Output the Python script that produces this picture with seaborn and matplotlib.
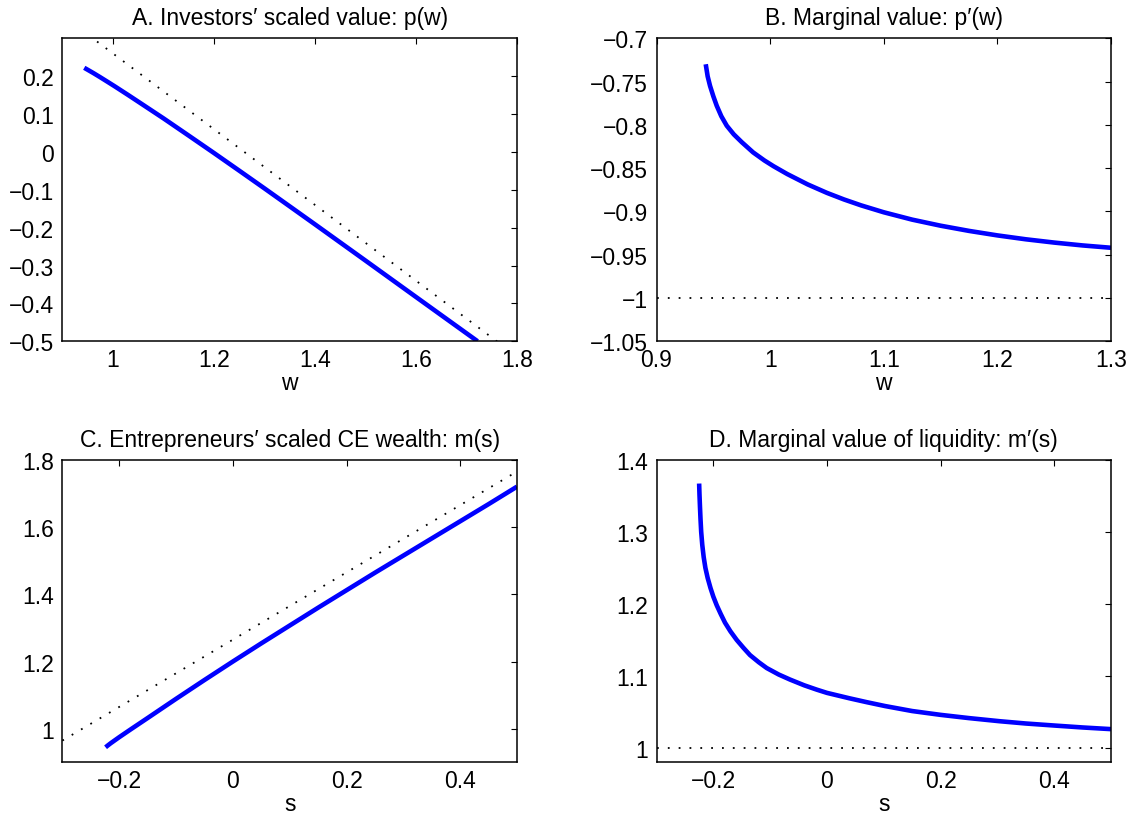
import numpy as np
import pandas as pd
import matplotlib
matplotlib.use("Agg")
import matplotlib.pyplot as plt
from matplotlib.ticker import FuncFormatter
import seaborn as sns

# ---------------- data ----------------
# Panel A: investors' scaled value p(w)
w_a = [0.9433, 0.9500, 0.9618, 0.9750, 0.9900, 1.0030, 1.0300, 1.0600, 1.1000,
       1.1500, 1.2000, 1.2500, 1.3000, 1.3500, 1.4000, 1.5000, 1.6000, 1.7220]
p_a = [0.222, 0.2169, 0.2078, 0.1971, 0.1846, 0.1737, 0.1504, 0.1240, 0.0887,
       0.0431, -0.0028, -0.0494, -0.0963, -0.1437, -0.1912, -0.2869, -0.3830, -0.5000]
w_a_fb = [0.90, 1.80]
p_a_fb = [0.36, -0.54]

# Panel B: marginal value p'(w)
w_b = [0.9433, 0.9450, 0.9471, 0.9500, 0.9530, 0.9570, 0.9618, 0.9680, 0.9750,
       0.9850, 0.9950, 1.0030, 1.0150, 1.0330, 1.0500, 1.0650, 1.0800, 1.1000,
       1.1250, 1.1500, 1.1750, 1.2000, 1.2250, 1.2500, 1.2750, 1.3000]
p_b = [-0.730, -0.744, -0.755, -0.767, -0.778, -0.790, -0.801, -0.811, -0.820,
       -0.8318, -0.8412, -0.8478, -0.8568, -0.8688, -0.8786, -0.8862, -0.8930, -0.9010,
       -0.9095, -0.9165, -0.9225, -0.9277, -0.9322, -0.9360, -0.9393, -0.9420]
w_b_fb = [0.90, 1.30]
p_b_fb = [-1.0, -1.0]

# Panel C: entrepreneurs' scaled CE wealth m(s)
s_c = [-0.2240, -0.2200, -0.2150, -0.2100, -0.2000, -0.1800, -0.1500, -0.1000, -0.0500,
       0.0000, 0.0500, 0.1000, 0.1500, 0.2000, 0.2500, 0.3000, 0.3500, 0.4000, 0.4500, 0.5000]
m_c = [0.945, 0.9505, 0.957, 0.963, 0.975, 0.998, 1.032, 1.089, 1.145,
       1.200, 1.254, 1.307, 1.360, 1.412, 1.464, 1.515, 1.566, 1.617, 1.668, 1.720]
s_c_fb = [-0.30, 0.50]
m_c_fb = [0.965, 1.765]

# Panel D: marginal value of liquidity m'(s)
s_d = [-0.2250, -0.2244, -0.2236, -0.2226, -0.2214, -0.2195, -0.2170, -0.2140, -0.2100,
       -0.2050, -0.2000, -0.1940, -0.1870, -0.1795, -0.1700, -0.1589, -0.1470, -0.1355,
       -0.1200, -0.1061, -0.0850, -0.0651, -0.0400, -0.0180, 0.0000, 0.0395, 0.0700,
       0.1024, 0.1500, 0.2000, 0.2500, 0.3036, 0.3500, 0.4000, 0.4500, 0.5000]
md_d = [1.367, 1.352, 1.336, 1.318, 1.300, 1.282, 1.265, 1.250, 1.236,
        1.222, 1.210, 1.198, 1.186, 1.174, 1.162, 1.150, 1.139, 1.129,
        1.119, 1.111, 1.102, 1.095, 1.087, 1.081, 1.0765, 1.0690, 1.0636,
        1.0582, 1.0513, 1.0460, 1.0415, 1.0372, 1.0340, 1.0312, 1.0285, 1.0262]
s_d_fb = [-0.30, 0.50]
md_d_fb = [1.0, 1.0]

titles = ["A. Investors\u2032 scaled value: p(w)",
          "B. Marginal value: p\u2032(w)",
          "C. Entrepreneurs\u2032 scaled CE wealth: m(s)",
          "D. Marginal value of liquidity: m\u2032(s)"]
xlabels = ["w", "w", "s", "s"]

xlims = [(0.9, 1.8), (0.9, 1.3), (-0.3, 0.5), (-0.3, 0.5)]
ylims = [(-0.5, 0.3), (-1.05, -0.7), (0.9, 1.8), (0.98, 1.4)]
xticks = [[1.0, 1.2, 1.4, 1.6, 1.8], [0.9, 1.0, 1.1, 1.2, 1.3],
          [-0.2, 0.0, 0.2, 0.4], [-0.2, 0.0, 0.2, 0.4]]
yticks = [[-0.5, -0.4, -0.3, -0.2, -0.1, 0.0, 0.1, 0.2],
          [-1.05, -1.0, -0.95, -0.9, -0.85, -0.8, -0.75, -0.7],
          [1.0, 1.2, 1.4, 1.6, 1.8],
          [1.0, 1.1, 1.2, 1.3, 1.4]]

curves = [(w_a, p_a), (w_b, p_b), (s_c, m_c), (s_d, md_d)]
refs = [(w_a_fb, p_a_fb), (w_b_fb, p_b_fb), (s_c_fb, m_c_fb), (s_d_fb, md_d_fb)]

# ---------------- style ----------------
sns.set_theme(style="white")
plt.rcParams["font.family"] = ["Liberation Sans", "DejaVu Sans"]
plt.rcParams.update({
    "axes.edgecolor": "black",
    "axes.linewidth": 1.1,
    "xtick.direction": "in",
    "ytick.direction": "in",
    "xtick.top": True,
    "ytick.right": True,
    "xtick.major.size": 4,
    "ytick.major.size": 4,
    "xtick.major.width": 0.8,
    "ytick.major.width": 0.8,
    "xtick.color": "black",
    "ytick.color": "black",
    "text.color": "black",
    "axes.labelcolor": "black",
    "axes.unicode_minus": True,
    "lines.solid_capstyle": "butt",
})

fs = 16.5

fig = plt.figure(figsize=(11.3, 8.2), dpi=100)
positions = [
    [0.0552, 0.5826, 0.4023, 0.3695],
    [0.5810, 0.5826, 0.4022, 0.3695],
    [0.0552, 0.0690, 0.4023, 0.3691],
    [0.5810, 0.0690, 0.4022, 0.3691],
]

fmt = FuncFormatter(lambda v, pos: ("%g" % round(v, 4)).replace("-", "\u2212"))

for i in range(4):
    ax = fig.add_axes(positions[i])
    xr, yr = refs[i]
    df_ref = pd.DataFrame({"x": xr, "y": yr})
    sns.lineplot(data=df_ref, x="x", y="y", ax=ax, color="black",
                 linestyle=(0, (1, 5)), linewidth=1.3, estimator=None, sort=False)
    xc, yc = curves[i]
    df = pd.DataFrame({"x": xc, "y": yc})
    sns.lineplot(data=df, x="x", y="y", ax=ax, color="#0000ff",
                 linewidth=3.3, estimator=None, sort=False)
    ax.set_xlim(*xlims[i])
    ax.set_ylim(*ylims[i])
    ax.set_xticks(xticks[i])
    ax.set_yticks(yticks[i])
    ax.xaxis.set_major_formatter(fmt)
    ax.yaxis.set_major_formatter(fmt)
    ax.tick_params(axis="y", labelsize=fs, pad=6)
    ax.tick_params(axis="x", labelsize=fs, pad=5)
    ax.set_xlabel(xlabels[i], fontsize=fs, labelpad=0)
    ax.set_ylabel("")
    ax.set_title(titles[i], fontsize=fs, pad=10)
    for sp in ax.spines.values():
        sp.set_visible(True)
        sp.set_color("black")

fig.savefig("out.png", dpi=100, facecolor="white")
